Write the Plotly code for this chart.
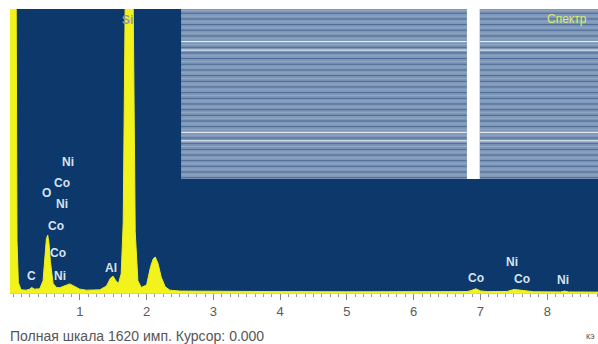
import plotly.graph_objects as go

# Spectrum (energy in keV, counts)
energy_kev = [-0.05, 0.04, 0.06, 0.08, 0.12, 0.2, 0.25, 0.28, 0.32, 0.4, 0.45, 0.48, 0.5, 0.52, 0.54, 0.56,
              0.6, 0.65, 0.7, 0.78, 0.85, 0.92, 1.0, 1.1, 1.2, 1.3, 1.4, 1.46, 1.5, 1.54, 1.58, 1.62,
              1.65, 1.68, 1.7, 1.78, 1.8, 1.83, 1.87, 1.92, 2.0, 2.06, 2.1, 2.13, 2.17, 2.22, 2.28, 2.35,
              2.5, 3.0, 4.0, 5.0, 6.0, 6.8, 6.86, 6.93, 7.0, 7.1, 7.4, 7.46, 7.5, 7.58, 7.65, 7.72,
              7.8, 8.2, 8.26, 8.32, 8.76]
counts = [2500, 2500, 300, 60, 18, 16, 22, 32, 22, 24, 70, 220, 310, 330, 280, 180,
          55, 32, 30, 42, 52, 38, 22, 16, 15, 18, 40, 85, 95, 70, 55, 110,
          400, 1500, 2500, 2500, 1500, 350, 70, 32, 45, 150, 195, 205, 170, 90, 35, 16,
          11, 9, 8, 7, 7, 8, 14, 24, 12, 8, 9, 16, 20, 17, 15, 10,
          7, 6, 11, 6, 5]

full_scale = 1620

# Peak labels (text, energy keV, counts position)
label_text = ["Si", "Ni", "Co", "O", "Ni", "Co", "Co", "C", "Ni", "Al", "Co", "Ni", "Co", "Ni"]
label_x = [1.72, 0.83, 0.74, 0.50, 0.74, 0.65, 0.68, 0.27, 0.71, 1.47, 6.93, 7.47, 7.62, 8.23]
label_y = [1560, 750, 625, 570, 505, 380, 230, 95, 95, 145, 88, 175, 78, 72]

tick_vals = [1, 2, 3, 4, 5, 6, 7, 8]
tick_text = ["1", "2", "3", "4", "5", "6", "7", "8"]

fig = go.Figure()
fig.add_trace(go.Scatter(
    x=energy_kev, y=counts, mode="lines", fill="tozeroy",
    line=dict(color="#eeee1a", width=1), fillcolor="#f2f21c",
    hoverinfo="skip", showlegend=False))

for t, x, y in zip(label_text, label_x, label_y):
    col = "#8e9aae" if t == "Si" and y > 1000 else "#d8e2f0"
    fig.add_annotation(x=x, y=y, text="<b>" + t + "</b>", showarrow=False,
                       font=dict(family="Liberation Sans, Arial", size=12, color=col))

# Striped overlay artifact (decoration, paper coords)
shapes = []
blocks = [(0.291, 0.777), (0.799, 1.0)]
y_top, y_bot = 1.0, 0.401
for bx0, bx1 in blocks:
    shapes.append(dict(type="rect", xref="paper", yref="paper", x0=bx0, x1=bx1, y0=y_bot, y1=y_top,
                       fillcolor="#7f97b8", line=dict(width=0), layer="above"))
    n = 60
    for i in range(n):
        yy = y_bot + (y_top - y_bot) * (i + 0.5) / n
        col = "#4a6a95" if i % 2 == 0 else "#90a6c2"
        if i in (13, 16, 45, 48):
            col = "#f4f6fa"
        shapes.append(dict(type="line", xref="paper", yref="paper", x0=bx0, x1=bx1, y0=yy, y1=yy,
                           line=dict(color=col, width=1), layer="above"))
shapes.append(dict(type="rect", xref="paper", yref="paper", x0=0.777, x1=0.799, y0=y_bot, y1=1.0,
                   fillcolor="white", line=dict(width=0), layer="above"))
fig.update_layout(shapes=shapes)

fig.add_annotation(xref="paper", yref="paper", x=0.985, y=0.995, xanchor="right", yanchor="top",
                   text="Спектр", showarrow=False,
                   font=dict(family="Liberation Sans, Arial", size=12, color="#dde873"))
fig.add_annotation(xref="paper", yref="paper", x=-0.003, y=-0.15, xanchor="left", yanchor="middle",
                   text="Полная шкала 1620 имп. Курсор: 0.000", showarrow=False,
                   font=dict(family="Liberation Sans, Arial", size=14, color="#555555"))
fig.add_annotation(xref="paper", yref="paper", x=0.998, y=-0.15, xanchor="right", yanchor="middle",
                   text="кэ", showarrow=False,
                   font=dict(family="Liberation Sans, Arial", size=9, color="#555555"))

fig.update_xaxes(range=[-0.045, 8.76], tickvals=tick_vals, ticktext=tick_text,
                 ticks="outside", ticklen=6, tickcolor="#888888", showgrid=False, zeroline=False,
                 showline=True, linecolor="#cccccc",
                 tickfont=dict(family="Liberation Sans, Arial", size=13, color="#5a5a5a"),
                 minor=dict(dtick=0.125, tick0=0, ticks="outside", ticklen=3, tickcolor="#999999"))
fig.update_yaxes(range=[0, full_scale], visible=False, showgrid=False, zeroline=False)

fig.update_layout(width=598, height=344, margin=dict(l=10, r=0, t=9, b=51),
                  paper_bgcolor="white", plot_bgcolor="#0c386c")

fig.write_html("out.html", config={"displayModeBar": False},
               post_script="document.body.style.margin='0';")
